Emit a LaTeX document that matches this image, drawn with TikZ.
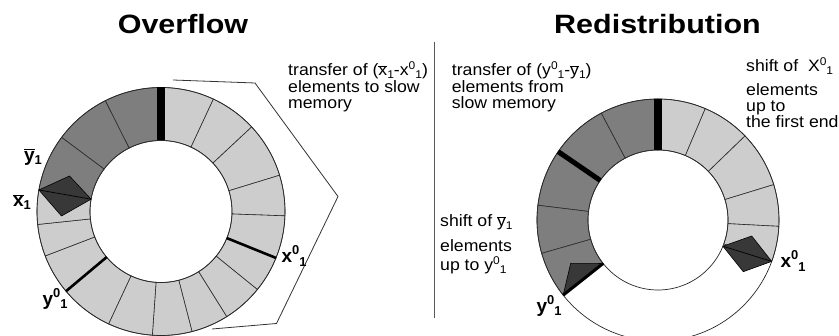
\documentclass[tikz,border=0pt]{standalone}
\usepackage{fontspec}
\usepackage{graphicx}
\setmainfont{Liberation Sans}
\usetikzlibrary{calc}
\definecolor{lightseg}{HTML}{CDCDCD}
\definecolor{darkseg}{HTML}{7E7E7E}
\definecolor{diamcol}{HTML}{383838}
\definecolor{segline}{HTML}{2A2A2A}
\newcommand\ovl[1]{\ensuremath{\overline{\mbox{#1}}}}
\newcommand\Sup[1]{\raisebox{0.42em}{\scalebox{0.68}{#1}}}
\newcommand\Sub[1]{\raisebox{-0.16em}{\scalebox{0.68}{#1}}}
\tikzset{
  sector/.style={draw=segline, line width=0.6pt},
  ringline/.style={draw=segline, line width=0.7pt},
  diamstyle/.style={fill=diamcol, draw=black, line width=0.6pt, line join=round},
  bracketline/.style={draw=black!80, line width=0.8pt},
  divider/.style={draw=black!65, line width=0.9pt},
  title/.style={font=\fontsize{26.5}{30}\selectfont\bfseries, xscale=1.15, inner sep=0pt, anchor=base},
  body/.style={font=\fontsize{16.5}{18}\selectfont, xscale=1.07, inner sep=0pt, anchor=base west},
  lab/.style={font=\fontsize{19}{20}\selectfont\bfseries, inner sep=0pt, anchor=center},
}
\begin{document}
\begin{tikzpicture}[x=1pt,y=1pt]
\useasboundingbox (0,0) rectangle (839,-336);
\clip (0,0) rectangle (839,-336);
\fill[white] (0,0) rectangle (839,-336);

% ---------------- titles ----------------
\node[title] (t1) at (183,-33.3) {Overflow};
\node[title] (t2) at (657.5,-33.3) {Redistribution};

% divider
\coordinate (dv1) at (434,-42);
\coordinate (dv2) at (434,-318);
\draw[divider] (dv1) -- (dv2);

% ---------------- left ring ----------------
\coordinate (LC) at (161,-211.5);
\def\Ro{124}
\def\Ri{71}
% bracket
\coordinate (br1) at (173,-80);
\coordinate (br2) at (255,-83);
\coordinate (br3) at (338,-196.5);
\coordinate (br4) at (276.5,-323.5);
\coordinate (br5) at (212,-329);
\draw[bracketline] (br1) -- (br2) -- (br3) -- (br4) -- (br5);

\foreach \a/\b in {90/65,65/43,43/17,17/-2,-2/-22,-22/-39,-39/-58,-58/-75.5,-75.5/-94,-94/-115,-115/-140,-140/-159,-159/-174,-174/-190}
  \filldraw[sector, fill=lightseg] ($(LC)+(\a:\Ro)$) arc[start angle=\a,end angle=\b,radius=\Ro] -- ($(LC)+(\b:\Ri)$) arc[start angle=\b,end angle=\a,radius=\Ri] -- cycle;
\foreach \a/\b in {90/116.7,116.7/143.3,143.3/170}
  \filldraw[sector, fill=darkseg] ($(LC)+(\a:\Ro)$) arc[start angle=\a,end angle=\b,radius=\Ro] -- ($(LC)+(\b:\Ri)$) arc[start angle=\b,end angle=\a,radius=\Ri] -- cycle;
\draw[ringline] (LC) circle[radius=\Ro];
\draw[ringline] (LC) circle[radius=\Ri];
\draw[line width=8pt] ($(LC)+(90:\Ri)$) -- ($(LC)+(90:\Ro)$);
\draw[line width=2.6pt] ($(LC)+(-22:\Ri)$) -- ($(LC)+(-22:\Ro)$);
\draw[line width=2.6pt] ($(LC)+(-140:\Ri)$) -- ($(LC)+(-140:\Ro)$);
% diamond at x-bar
\coordinate (LDo) at ($(LC)+(170:\Ro)$);
\coordinate (LDi) at ($(LC)+(170:\Ri)$);
\coordinate (LDt) at (69.5,-176);
\coordinate (LDb) at (61.5,-216);
\filldraw[diamstyle] (LDo) -- (LDt) -- (LDi) -- (LDb) -- cycle;
\draw[line width=0.7pt] (LDo) -- (LDi);

% ---------------- right ring ----------------
\coordinate (RC) at (658,-220);
\def\Rro{121}
\def\Rri{70}
\foreach \a/\b in {90/67,67/44,44/17,17/-3,-3/-20}
  \filldraw[sector, fill=lightseg] ($(RC)+(\a:\Rro)$) arc[start angle=\a,end angle=\b,radius=\Rro] -- ($(RC)+(\b:\Rri)$) arc[start angle=\b,end angle=\a,radius=\Rri] -- cycle;
\foreach \a/\b in {90/118,118/145.6,145.6/173,173/196,196/218.4}
  \filldraw[sector, fill=darkseg] ($(RC)+(\a:\Rro)$) arc[start angle=\a,end angle=\b,radius=\Rro] -- ($(RC)+(\b:\Rri)$) arc[start angle=\b,end angle=\a,radius=\Rri] -- cycle;
\draw[ringline] (RC) circle[radius=\Rro];
\draw[ringline] (RC) circle[radius=\Rri];
\draw[line width=8pt] ($(RC)+(90:\Rri)$) -- ($(RC)+(90:\Rro)$);
\draw[line width=5pt] ($(RC)+(145.6:\Rri)$) -- ($(RC)+(145.6:\Rro)$);
% triangle at y0
\coordinate (RTo) at ($(RC)+(218.4:\Rro)$);
\coordinate (RTi) at ($(RC)+(218.4:\Rri)$);
\coordinate (RTt) at (570.7,-263.3);
\filldraw[diamstyle] (RTo) -- (RTt) -- (RTi) -- cycle;
\draw[line width=3pt] (RTo) -- (RTi);
% diamond at x0
\coordinate (RDo) at ($(RC)+(-20:\Rro)$);
\coordinate (RDi) at ($(RC)+(-22:\Rri)$);
\coordinate (RDt) at (751.7,-236);
\coordinate (RDb) at (743.3,-271.7);
\filldraw[diamstyle] (RDo) -- (RDt) -- (RDi) -- (RDb) -- cycle;
\draw[line width=0.7pt] (RDo) -- (RDi);

% ---------------- texts ----------------
\node[body] (a1) at (288,-76) {transfer of (\ovl{x}\Sub{1}-x\Sup{0}\Sub{1})};
\node[body] (a2) at (288,-93) {elements to slow};
\node[body] (a3) at (288,-109) {memory};

\node[body] (b1) at (451.7,-76) {transfer of (y\Sup{0}\Sub{1}-\ovl{y}\Sub{1})};
\node[body] (b2) at (451.7,-93) {elements from};
\node[body] (b3) at (451.7,-109) {slow memory};

\node[body] (c1) at (746,-72) {shift of \ X\Sup{0}\Sub{1}};
\node[body] (c2) at (746,-96) {elements};
\node[body] (c3) at (746,-112) {up to};
\node[body] (c4) at (746,-128) {the first end};

\node[body] (d1) at (440,-227) {shift of \ovl{y}\Sub{1}};
\node[body] (d2) at (440,-252) {elements};
\node[body] (d3) at (440,-271) {up to y\Sup{0}\Sub{1}};

% ring labels
\node[lab] (ly) at (33,-157) {\ovl{y}\Sub{1}};
\node[lab] (lx) at (22,-202) {\ovl{x}\Sub{1}};
\node[lab] (ly0) at (55,-299) {y\Sup{0}\Sub{1}};
\node[lab] (lx0) at (294,-256) {x\Sup{0}\Sub{1}};
\node[lab] (ry0) at (549,-306) {y\Sup{0}\Sub{1}};
\node[lab] (rx0) at (793,-261) {x\Sup{0}\Sub{1}};
\end{tikzpicture}
\end{document}
